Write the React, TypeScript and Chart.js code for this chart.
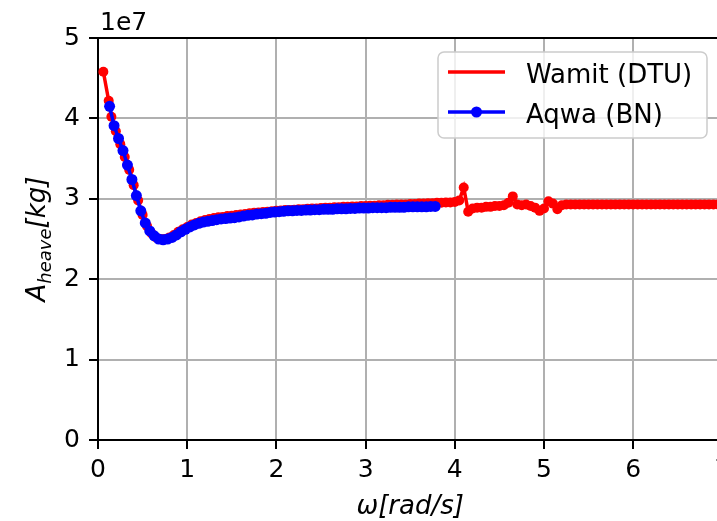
import { useEffect, useRef } from 'react';
import { Chart, registerables } from 'chart.js';

Chart.register(...registerables);

const FONT = '"DejaVu Sans", "Liberation Sans", sans-serif';

// Frequency grid and heave added mass (units of 1e7 kg), Wamit (DTU)
const wamitOmega = [
  0.06,
  0.12, 0.15, 0.20, 0.25, 0.30, 0.35, 0.40, 0.45, 0.50, 0.55,
  0.60, 0.65, 0.70, 0.75, 0.80, 0.85, 0.90, 0.95, 1.00, 1.05,
  1.10, 1.15, 1.20, 1.25, 1.30, 1.35, 1.40, 1.45, 1.50, 1.55,
  1.60, 1.65, 1.70, 1.75, 1.80, 1.85, 1.90, 1.95, 2.00, 2.05,
  2.10, 2.15, 2.20, 2.25, 2.30, 2.35, 2.40, 2.45, 2.50, 2.55,
  2.60, 2.65, 2.70, 2.75, 2.80, 2.85, 2.90, 2.95, 3.00, 3.05,
  3.10, 3.15, 3.20, 3.25, 3.30, 3.35, 3.40, 3.45, 3.50, 3.55,
  3.60, 3.65, 3.70, 3.75, 3.80, 3.85, 3.90, 3.95, 4.00, 4.05,
  4.10, 4.15, 4.20, 4.25, 4.30, 4.35, 4.40, 4.45, 4.50, 4.55,
  4.60, 4.65, 4.70, 4.75, 4.80, 4.85, 4.90, 4.95, 5.00, 5.05,
  5.10, 5.15, 5.20, 5.25, 5.30, 5.35, 5.40, 5.45, 5.50, 5.55,
  5.60, 5.65, 5.70, 5.75, 5.80, 5.85, 5.90, 5.95, 6.00, 6.05,
  6.10, 6.15, 6.20, 6.25, 6.30, 6.35, 6.40, 6.45, 6.50, 6.55,
  6.60, 6.65, 6.70, 6.75, 6.80, 6.85, 6.90, 6.95, 7.00,
];
const wamitHeave = [
  4.58,
  4.22, 4.02, 3.84, 3.68, 3.52, 3.36, 3.17, 2.98, 2.80, 2.66,
  2.57, 2.52, 2.50, 2.50, 2.52, 2.55, 2.59, 2.62, 2.65, 2.68,
  2.70, 2.72, 2.735, 2.75, 2.76, 2.77, 2.775, 2.785, 2.79, 2.80,
  2.805, 2.81, 2.82, 2.825, 2.83, 2.835, 2.84, 2.845, 2.85, 2.855,
  2.86, 2.86, 2.865, 2.87, 2.87, 2.875, 2.88, 2.88, 2.885, 2.89,
  2.89, 2.895, 2.895, 2.90, 2.90, 2.905, 2.905, 2.91, 2.91, 2.915,
  2.915, 2.92, 2.92, 2.925, 2.925, 2.93, 2.93, 2.93, 2.935, 2.935,
  2.94, 2.94, 2.945, 2.945, 2.95, 2.95, 2.955, 2.955, 2.96, 2.98,
  3.14, 2.84, 2.88, 2.89, 2.89, 2.90, 2.90, 2.91, 2.91, 2.92,
  2.95, 3.03, 2.93, 2.92, 2.93, 2.91, 2.89, 2.85, 2.88, 2.97,
  2.94, 2.87, 2.92, 2.93, 2.93, 2.93, 2.93, 2.93, 2.93, 2.93,
  2.93, 2.93, 2.93, 2.93, 2.93, 2.93, 2.93, 2.93, 2.93, 2.93,
  2.93, 2.93, 2.93, 2.93, 2.93, 2.93, 2.93, 2.93, 2.93, 2.93,
  2.93, 2.93, 2.93, 2.93, 2.93, 2.93, 2.93, 2.93, 2.93,
];

// Aqwa (BN)
const aqwaOmega = [
  0.13, 0.18, 0.23, 0.28, 0.33, 0.38, 0.43, 0.48, 0.53, 0.58,
  0.63, 0.68, 0.73, 0.78, 0.83, 0.88, 0.93, 0.98,
  1.03, 1.08, 1.13, 1.18, 1.23, 1.28, 1.33, 1.38, 1.43, 1.48,
  1.53, 1.58, 1.63, 1.68, 1.73, 1.78, 1.83, 1.88, 1.93, 1.98,
  2.03, 2.08, 2.13, 2.18, 2.23, 2.28, 2.33, 2.38, 2.43, 2.48,
  2.53, 2.58, 2.63, 2.68, 2.73, 2.78, 2.83, 2.88, 2.93, 2.98,
  3.03, 3.08, 3.13, 3.18, 3.23, 3.28, 3.33, 3.38, 3.43, 3.48,
  3.53, 3.58, 3.63, 3.68, 3.73, 3.78,
];
const aqwaHeave = [
  4.15, 3.91, 3.75, 3.60, 3.42, 3.24, 3.04, 2.85, 2.70, 2.60,
  2.54, 2.50, 2.49, 2.50, 2.52, 2.55, 2.59, 2.62,
  2.65, 2.675, 2.695, 2.71, 2.72, 2.73, 2.74, 2.75, 2.755, 2.76,
  2.765, 2.775, 2.785, 2.795, 2.80, 2.81, 2.815, 2.82, 2.83, 2.835,
  2.84, 2.845, 2.85, 2.85, 2.855, 2.855, 2.86, 2.86, 2.865, 2.865,
  2.87, 2.87, 2.87, 2.875, 2.875, 2.875, 2.88, 2.88, 2.885, 2.885,
  2.885, 2.89, 2.89, 2.89, 2.89, 2.895, 2.895, 2.895, 2.895, 2.90,
  2.90, 2.90, 2.90, 2.90, 2.905, 2.905,
];

const xRange = [0, 7];
const yRange = [0, 5];
const seriesNames = ['Wamit (DTU)', 'Aqwa (BN)'];
const seriesColors = ['#ff0000', '#0000ff'];
const xTitle = 'ω[rad/s]';
const yTitleMain = 'A';
const yTitleSub = 'heave';
const yTitleUnit = '[kg]';
const offsetText = '1e7';

const CANVAS_W = 760;
const CANVAS_H = 521;

const decorations = {
  id: 'decorations',
  afterDraw(chart: any) {
    const { ctx, chartArea } = chart;
    const { left, right, top, bottom } = chartArea;
    ctx.save();

    // top spine
    ctx.strokeStyle = '#000';
    ctx.lineWidth = 2;
    ctx.beginPath();
    ctx.moveTo(left - 1, top);
    ctx.lineTo(right + 1, top);
    ctx.stroke();

    ctx.fillStyle = '#000';
    ctx.textAlign = 'left';
    ctx.textBaseline = 'alphabetic';

    // scale offset
    ctx.font = `25px ${FONT}`;
    ctx.fillText(offsetText, left + 2, top - 8);

    // x title
    ctx.font = `italic 26px ${FONT}`;
    ctx.textAlign = 'center';
    ctx.fillText(xTitle, (left + right) / 2, 514);

    // y title with subscript
    ctx.save();
    ctx.translate(45, (top + bottom) / 2);
    ctx.rotate(-Math.PI / 2);
    ctx.textAlign = 'left';
    const big = `italic 26px ${FONT}`;
    const small = `italic 18px ${FONT}`;
    ctx.font = big;
    const wA = ctx.measureText(yTitleMain).width;
    const wU = ctx.measureText(yTitleUnit).width;
    ctx.font = small;
    const wS = ctx.measureText(yTitleSub).width;
    let x0 = -(wA + wS + wU) / 2;
    ctx.font = big;
    ctx.fillText(yTitleMain, x0, 0);
    x0 += wA;
    ctx.font = small;
    ctx.fillText(yTitleSub, x0, 6);
    x0 += wS;
    ctx.font = big;
    ctx.fillText(yTitleUnit, x0, 0);
    ctx.restore();

    // legend
    const lx = 438, ly = 52, lw = 269, lh = 86, r = 6;
    ctx.beginPath();
    ctx.moveTo(lx + r, ly);
    ctx.arcTo(lx + lw, ly, lx + lw, ly + lh, r);
    ctx.arcTo(lx + lw, ly + lh, lx, ly + lh, r);
    ctx.arcTo(lx, ly + lh, lx, ly, r);
    ctx.arcTo(lx, ly, lx + lw, ly, r);
    ctx.closePath();
    ctx.fillStyle = 'rgba(255,255,255,0.8)';
    ctx.fill();
    ctx.strokeStyle = '#cccccc';
    ctx.lineWidth = 1.5;
    ctx.stroke();

    const rows = [72, 112];
    ctx.font = `26px ${FONT}`;
    ctx.textAlign = 'left';
    ctx.textBaseline = 'alphabetic';
    seriesNames.forEach((name, i) => {
      const yy = rows[i];
      ctx.strokeStyle = seriesColors[i];
      ctx.lineWidth = 3.5;
      ctx.beginPath();
      ctx.moveTo(448, yy);
      ctx.lineTo(505, yy);
      ctx.stroke();
      if (i === 1) {
        ctx.fillStyle = seriesColors[i];
        ctx.beginPath();
        ctx.arc(476.5, yy, 5.5, 0, Math.PI * 2);
        ctx.fill();
      }
      ctx.fillStyle = '#000';
      ctx.fillText(name, 526, yy + 11);
    });

    ctx.restore();
  },
};

export default function App() {
  const canvasRef = useRef<HTMLCanvasElement | null>(null);

  useEffect(() => {
    const canvas = canvasRef.current;
    if (!canvas) return;

    const gridCommon = {
      color: '#b0b0b0',
      lineWidth: 2,
      tickColor: '#000',
      tickWidth: 2,
      tickLength: 9,
    };

    const chart = new Chart(canvas, {
      type: 'line',
      data: {
        datasets: [
          {
            label: seriesNames[0],
            data: wamitOmega.map((w, i) => ({ x: w, y: wamitHeave[i] })),
            borderColor: seriesColors[0],
            backgroundColor: seriesColors[0],
            pointBackgroundColor: seriesColors[0],
            borderWidth: 3.5,
            pointRadius: 5,
            pointBorderWidth: 0,
            tension: 0,
            order: 2,
          },
          {
            label: seriesNames[1],
            data: aqwaOmega.map((w, i) => ({ x: w, y: aqwaHeave[i] })),
            borderColor: seriesColors[1],
            backgroundColor: seriesColors[1],
            pointBackgroundColor: seriesColors[1],
            borderWidth: 3.5,
            pointRadius: 5.5,
            pointBorderWidth: 0,
            tension: 0,
            order: 1,
          },
        ],
      },
      options: {
        responsive: false,
        devicePixelRatio: 1,
        animation: false,
        layout: { padding: { left: 0, top: 38, right: CANVAS_W - 722.4, bottom: 0 } },
        plugins: {
          legend: { display: false },
          tooltip: { enabled: false },
        },
        scales: {
          x: {
            type: 'linear',
            min: xRange[0],
            max: xRange[1],
            afterFit: (s: any) => { s.height = 81; },
            ticks: {
              stepSize: 1,
              autoSkip: false,
              maxRotation: 0,
              color: '#000',
              padding: 6,
              font: { family: FONT, size: 25 },
            },
            grid: gridCommon,
            border: { display: true, color: '#000', width: 2 },
          },
          y: {
            type: 'linear',
            min: yRange[0],
            max: yRange[1],
            afterFit: (s: any) => { s.width = 98; },
            ticks: {
              stepSize: 1,
              color: '#000',
              padding: 9,
              font: { family: FONT, size: 25 },
            },
            grid: gridCommon,
            border: { display: true, color: '#000', width: 2 },
          },
        },
      },
      plugins: [decorations],
    });

    return () => chart.destroy();
  }, []);

  return (
    <div
      style={{
        position: 'fixed',
        left: 0,
        top: 0,
        width: 717,
        height: 521,
        overflow: 'hidden',
        background: '#fff',
      }}
    >
      <canvas ref={canvasRef} width={CANVAS_W} height={CANVAS_H} style={{ display: 'block' }} />
    </div>
  );
}
